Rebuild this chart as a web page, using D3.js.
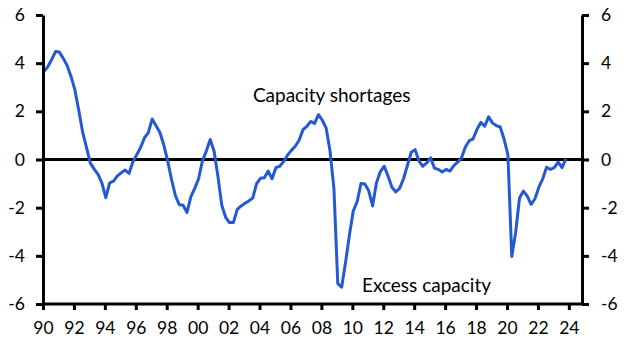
<!DOCTYPE html>
<html><head><meta charset="utf-8">
<script src="https://cdn.jsdelivr.net/npm/d3@7"></script>
<style>
html,body{margin:0;padding:0;background:#fff;}
svg{display:block;}
text{font-family:Lato,"Open Sans",sans-serif;fill:#000;}
</style></head>
<body><div id="chart"></div>
<script>
// Quarterly series, 1990 Q1 .. 2023 Q4
const startYear = 1990;
const values = [
 3.65, 3.85, 4.15, 4.48,   4.46, 4.20, 3.90, 3.45,   2.90, 2.05, 1.15, 0.50,
 -0.15, -0.40, -0.62, -0.98,   -1.58, -0.97, -0.90, -0.68,   -0.55, -0.44, -0.58, -0.10,
 0.20, 0.50, 0.90, 1.12,   1.68, 1.40, 1.12, 0.60,   -0.05, -0.83, -1.50, -1.88,
 -1.90, -2.20, -1.55, -1.20,   -0.80, -0.05, 0.35, 0.83,   0.35, -0.70, -1.90, -2.40,
 -2.62, -2.62, -2.07, -1.93,   -1.82, -1.72, -1.60, -1.00,   -0.78, -0.76, -0.48, -0.80,
 -0.34, -0.28, -0.08, 0.18,   0.38, 0.55, 0.80, 1.24,   1.38, 1.58, 1.50, 1.86,
 1.63, 1.30, 0.35, -1.20,   -5.15, -5.30, -4.28, -3.15,   -2.14, -1.75, -1.00, -1.02,
 -1.30, -1.93, -0.97, -0.50,   -0.28, -0.69, -1.15, -1.35,   -1.20, -0.80, -0.25, 0.30,
 0.41, -0.07, -0.28, -0.14,   0.07, -0.36, -0.41, -0.52,   -0.41, -0.48, -0.25, -0.11,
 0.07, 0.52, 0.78, 0.86,   1.25, 1.54, 1.38, 1.77,   1.52, 1.41, 1.35, 0.85,
 0.20, -4.03, -3.03, -1.60,   -1.31, -1.52, -1.86, -1.63,   -1.15, -0.80, -0.32, -0.41,
 -0.34, -0.11, -0.34, 0.03
];
const xTickYears = [1990,1992,1994,1996,1998,2000,2002,2004,2006,2008,2010,2012,2014,2016,2018,2020,2022,2024];
const xTickLabels = ["90","92","94","96","98","00","02","04","06","08","10","12","14","16","18","20","22","24"];
const yTicks = [-6,-4,-2,0,2,4,6];
const yTickLabels = ["-6","-4","-2","0","2","4","6"];
const annotations = [
  {text:"Capacity shortages", year:2003.57, value:2.37},
  {text:"Excess capacity", year:2010.62, value:-5.52}
];

const W = 628, H = 352;
const mLeft = 43, mRight = 582, mTop = 15, mBottom = 304;
const x = d3.scaleLinear().domain([1990, 2024.85]).range([mLeft, mRight]);
const y = d3.scaleLinear().domain([-6, 6]).range([mBottom, mTop]);

const data = values.map((v,i)=>({t: startYear + i/4 + 0.06, v}));

const svg = d3.select("#chart").append("svg").attr("width",W).attr("height",H);

// zero line
svg.append("line").attr("x1",mLeft).attr("x2",mRight).attr("y1",y(0)).attr("y2",y(0))
  .attr("stroke","#000").attr("stroke-width",3);

// series line
svg.append("path").datum(data)
  .attr("fill","none").attr("stroke","#2459d2").attr("stroke-width",3).attr("stroke-linejoin","round")
  .attr("d", d3.line().x(d=>x(d.t)).y(d=>y(d.v)));

// axes
const fmtY = d => yTickLabels[yTicks.indexOf(d)];
const fmtX = d => xTickLabels[xTickYears.indexOf(d)];
const gL = svg.append("g").attr("transform",`translate(${mLeft},0)`)
  .call(d3.axisLeft(y).tickValues(yTicks).tickFormat(fmtY).tickSize(7).tickPadding(11).tickSizeOuter(0));
const gR = svg.append("g").attr("transform",`translate(${mRight},0)`)
  .call(d3.axisRight(y).tickValues(yTicks).tickFormat(fmtY).tickSize(7).tickPadding(12).tickSizeOuter(0));
const gB = svg.append("g").attr("transform",`translate(0,${mBottom})`)
  .call(d3.axisBottom(x).tickValues(xTickYears).tickFormat(fmtX).tickSize(6).tickPadding(12).tickSizeOuter(0));
[gL,gR,gB].forEach(g=>{
  g.selectAll("path,line").attr("stroke","#000").attr("stroke-width",3);
  g.selectAll("text").style("font-family","Lato, 'Open Sans', sans-serif").style("font-size","17.5px").attr("fill","#000");
});
gB.select(".domain").attr("d",`M${mLeft},0H${mRight}`);

svg.selectAll(".ann").data(annotations).enter().append("text")
  .attr("x",d=>x(d.year)).attr("y",d=>y(d.value))
  .style("font-size","19px").attr("text-anchor","start")
  .text(d=>d.text);
</script></body></html>
